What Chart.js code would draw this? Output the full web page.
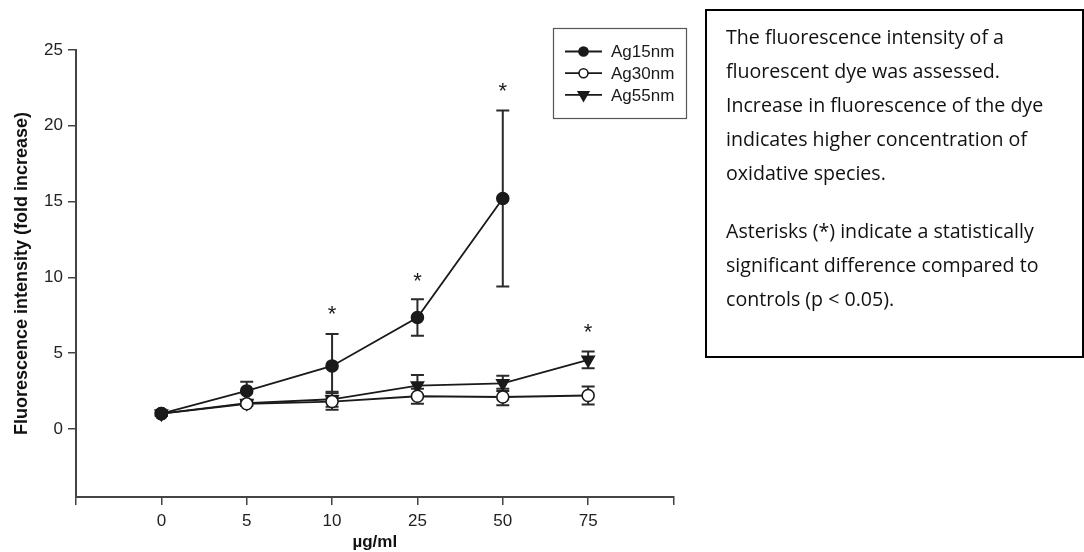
<!DOCTYPE html>
<html lang="en">
<head>
    <meta charset="UTF-8">
    <title>Fluorescence intensity</title>
    <script src="https://cdn.jsdelivr.net/npm/chart.js"></script>
    <style>
        body {
            margin: 0;
            padding: 0;
            background: #fff;
            overflow: hidden;
        }
        .chart-wrap {
            position: absolute;
            left: 0;
            top: 0;
            width: 1084px;
            height: 552px;
        }
        .note {
            position: absolute;
            left: 705px;
            top: 9px;
            width: 379px;
            height: 349px;
            box-sizing: border-box;
            border: 2px solid #000;
            padding: 9px 0 0 19px;
            font-family: 'Open Sans', sans-serif;
            font-size: 19.6px;
            line-height: 34px;
            color: #111;
            white-space: nowrap;
        }
        .note p {
            margin: 0;
        }
        .note p + p {
            margin-top: 24px;
        }
    </style>
</head>
<body>
    <div class="chart-wrap">
        <canvas id="fluoChart"></canvas>
    </div>
    <div class="note">
        <p>The fluorescence intensity of a<br>fluorescent dye was assessed.<br>Increase in fluorescence of the dye<br>indicates higher concentration of<br>oxidative species.</p>
        <p>Asterisks (*) indicate a statistically<br>significant difference compared to<br>controls (p &lt; 0.05).</p>
    </div>

    <script>
        // x categories (placed at index 0..5 on a linear axis running -1..6)
        const xLabels = ['0', '5', '10', '25', '50', '75'];
        const yTicks = [0, 5, 10, 15, 20, 25];

        // means and error (+/-) per series
        const ag15 = [1.0, 2.5, 4.15, 7.35, 15.2];
        const ag15Err = [0.15, 0.6, 2.1, 1.2, 5.8];
        const ag30 = [1.0, 1.65, 1.8, 2.15, 2.1, 2.2];
        const ag30Err = [0.1, 0.15, 0.55, 0.5, 0.55, 0.6];
        const ag55 = [1.0, 1.7, 1.95, 2.85, 3.0, 4.55];
        const ag55Err = [0.1, 0.15, 0.5, 0.7, 0.5, 0.55];

        // significance asterisks: category index and height
        const starX = [2, 3, 4, 5];
        const starY = [7.9, 10.1, 22.6, 6.7];

        const ink = '#1a1a1a';
        const axisColor = '#444';

        function toPoints(vals) {
            return vals.map((v, i) => ({ x: i, y: v }));
        }

        const datasets = [
            { label: 'Ag15nm', data: toPoints(ag15), err: ag15Err, pointStyle: 'circle', pointRadius: 6,
              pointBackgroundColor: ink, pointBorderColor: ink, rotation: 0 },
            { label: 'Ag30nm', data: toPoints(ag30), err: ag30Err, pointStyle: 'circle', pointRadius: 6,
              pointBackgroundColor: '#fff', pointBorderColor: ink, rotation: 0 },
            { label: 'Ag55nm', data: toPoints(ag55), err: ag55Err, pointStyle: 'triangle', pointRadius: 7,
              pointBackgroundColor: ink, pointBorderColor: ink, rotation: 180 }
        ].map(d => Object.assign({
            borderColor: ink,
            borderWidth: 1.8,
            pointBorderWidth: 1.6,
            pointRotation: d.rotation,
            tension: 0,
            fill: false
        }, d));

        // vertical error bars with caps, drawn under the lines
        const errorBars = {
            id: 'errorBars',
            beforeDatasetsDraw(chart) {
                const { ctx, scales: { x, y } } = chart;
                ctx.save();
                ctx.strokeStyle = '#2a2a2a';
                ctx.lineWidth = 2;
                chart.data.datasets.forEach(ds => {
                    ds.data.forEach((p, i) => {
                        const e = ds.err[i];
                        const px = x.getPixelForValue(p.x);
                        const top = y.getPixelForValue(p.y + e);
                        const bot = y.getPixelForValue(p.y - e);
                        ctx.beginPath();
                        ctx.moveTo(px, top);
                        ctx.lineTo(px, bot);
                        ctx.moveTo(px - 6.5, top);
                        ctx.lineTo(px + 6.5, top);
                        ctx.moveTo(px - 6.5, bot);
                        ctx.lineTo(px + 6.5, bot);
                        ctx.stroke();
                    });
                });
                ctx.restore();
            }
        };

        const asterisks = {
            id: 'asterisks',
            afterDatasetsDraw(chart) {
                const { ctx, scales: { x, y } } = chart;
                ctx.save();
                ctx.fillStyle = ink;
                ctx.font = '22px "Liberation Sans", Arial, sans-serif';
                ctx.textAlign = 'center';
                ctx.textBaseline = 'alphabetic';
                starX.forEach((xi, i) => {
                    ctx.fillText('*', x.getPixelForValue(xi), y.getPixelForValue(starY[i]) + 12);
                });
                ctx.restore();
            }
        };

        function drawMarker(ctx, ds, cx, cy) {
            ctx.fillStyle = ds.pointBackgroundColor;
            ctx.strokeStyle = ds.pointBorderColor;
            ctx.lineWidth = ds.pointBorderWidth;
            ctx.beginPath();
            if (ds.pointStyle === 'triangle') {
                const r = ds.pointRadius;
                ctx.moveTo(cx - r * 0.87, cy - r * 0.5);
                ctx.lineTo(cx + r * 0.87, cy - r * 0.5);
                ctx.lineTo(cx, cy + r);
                ctx.closePath();
            } else {
                ctx.arc(cx, cy, ds.pointRadius - 0.5, 0, Math.PI * 2);
            }
            ctx.fill();
            ctx.stroke();
        }

        // boxed legend up in the top right corner
        const boxLegend = {
            id: 'boxLegend',
            afterDraw(chart) {
                const ctx = chart.ctx;
                ctx.save();
                ctx.strokeStyle = '#555';
                ctx.lineWidth = 1.2;
                ctx.strokeRect(553.5, 28.5, 133, 90);
                ctx.font = '17px "Liberation Sans", Arial, sans-serif';
                ctx.textBaseline = 'middle';
                ctx.textAlign = 'left';
                chart.data.datasets.forEach((ds, i) => {
                    const cy = 51.5 + i * 21.7;
                    ctx.strokeStyle = ink;
                    ctx.lineWidth = 1.8;
                    ctx.beginPath();
                    ctx.moveTo(565, cy);
                    ctx.lineTo(602, cy);
                    ctx.stroke();
                    drawMarker(ctx, Object.assign({}, ds, { pointRadius: ds.pointRadius - 1 }), 583.5, cy);
                    ctx.fillStyle = ink;
                    ctx.fillText(ds.label, 611, cy + 1);
                });
                ctx.restore();
            }
        };

        const tickFont = { family: '"Liberation Sans", Arial, sans-serif', size: 17 };
        const titleFont = { family: '"Liberation Sans", Arial, sans-serif', size: 18, weight: 'bold' };

        new Chart(document.getElementById('fluoChart'), {
            type: 'line',
            data: { datasets: datasets },
            options: {
                responsive: true,
                maintainAspectRatio: false,
                animation: false,
                layout: { padding: { left: 0, top: 50, right: 410.5, bottom: 0 } },
                plugins: {
                    legend: { display: false },
                    tooltip: { enabled: false }
                },
                scales: {
                    x: {
                        type: 'linear',
                        min: -1,
                        max: 6,
                        afterBuildTicks(scale) {
                            const t = [];
                            for (let v = -1; v <= 6; v++) t.push({ value: v });
                            scale.ticks = t;
                        },
                        afterFit(scale) { scale.height = 55; },
                        grid: { drawOnChartArea: false, drawTicks: true, tickLength: 8, color: axisColor, lineWidth: 1.5 },
                        border: { display: true, color: axisColor, width: 2 },
                        ticks: {
                            color: '#222',
                            font: tickFont,
                            padding: 6,
                            maxRotation: 0,
                            autoSkip: false,
                            callback: v => (xLabels[v] !== undefined ? xLabels[v] : '')
                        },
                        title: {
                            display: true,
                            text: 'µg/ml',
                            color: '#111',
                            font: { family: titleFont.family, size: 17, weight: 'bold' },
                            padding: { top: 0, bottom: -1 }
                        }
                    },
                    y: {
                        min: -4.5,
                        max: 25,
                        afterBuildTicks(scale) {
                            scale.ticks = yTicks.map(v => ({ value: v }));
                        },
                        afterFit(scale) { scale.width = 76; },
                        grid: { drawOnChartArea: false, drawTicks: true, tickLength: 8, color: axisColor, lineWidth: 1.5 },
                        border: { display: true, color: axisColor, width: 2 },
                        ticks: { color: '#222', font: tickFont, padding: 5 },
                        title: {
                            display: true,
                            text: 'Fluorescence intensity (fold increase)',
                            color: '#111',
                            font: titleFont,
                            padding: { top: 11, bottom: 0 }
                        }
                    }
                }
            },
            plugins: [errorBars, asterisks, boxLegend]
        });
    </script>
</body>
</html>
